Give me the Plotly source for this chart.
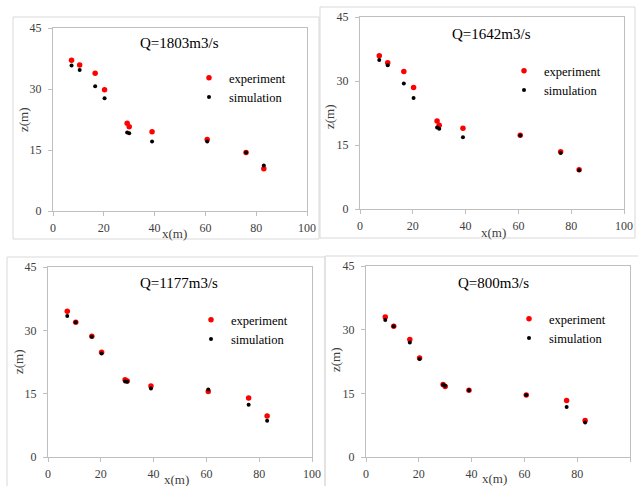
"""Four-panel water surface profiles: experiment vs simulation."""
import plotly.graph_objects as go

W, H = 638, 486

# ---- data ----
x_pos = [7.3, 10.5, 16.6, 20.3, 29.2, 30.0, 39.0, 60.7, 76.0, 83.0]

exp_1803 = [37.1, 35.9, 33.9, 29.8, 21.6, 20.7, 19.5, 17.6, 14.4, 10.4]
sim_1803 = [35.8, 34.7, 30.7, 27.7, 19.3, 19.1, 17.1, 17.1, 14.4, 11.2]

exp_1642 = [35.9, 34.3, 32.2, 28.5, 20.6, 19.6, 18.9, 17.3, 13.4, 9.2]
sim_1642 = [34.9, 33.7, 29.4, 26.0, 19.1, 18.8, 16.8, 17.2, 13.1, 9.1]

exp_1177 = [34.5, 31.9, 28.6, 24.8, 18.3, 18.0, 16.8, 15.5, 14.0, 9.7]
sim_1177 = [33.4, 31.9, 28.5, 24.5, 17.9, 17.8, 16.2, 16.0, 12.4, 8.6]

exp_800 = [33.0, 30.8, 27.7, 23.3, 17.1, 16.6, 15.7, 14.6, 13.3, 8.6]
sim_800 = [32.3, 30.8, 27.0, 23.1, 17.0, 16.8, 15.7, 14.6, 11.8, 8.1]

titles = ["Q=1803m3/s", "Q=1642m3/s", "Q=1177m3/s", "Q=800m3/s"]
experiments = [exp_1803, exp_1642, exp_1177, exp_800]
simulations = [sim_1803, sim_1642, sim_1177, sim_800]

x_ticks = [0, 20, 40, 60, 80, 100]
y_ticks = [0, 15, 30, 45]

# ---- layout geometry in pixels ----
# plot area (left, right, top, bottom), outer frame, title/legend/axis-title anchors
panels = [
    dict(plot=(53, 307, 28, 211), frame=(13, 319, 17, 239),
         title=(179, 43), legend=(229, 79), xt=(174, 234), yt=(23, 120)),
    dict(plot=(360, 624, 17, 209), frame=(320, 635, 7, 238),
         title=(491, 34), legend=(544, 72), xt=(493, 232), yt=(330, 117)),
    dict(plot=(48, 312, 267, 457), frame=(7, 325, 257, 490),
         title=(179, 283), legend=(231, 321), xt=(176, 479), yt=(18, 362)),
    dict(plot=(366, 630, 266, 457), frame=(325, 640, 256, 490),
         title=(493, 283), legend=(549, 320), xt=(494, 478), yt=(335, 360)),
]

SERIF = "Liberation Serif"
AXIS_COL = "#bfbfbf"
FRAME_COL = "#d9d9d9"
TEXT_COL = "#404040"


def px_x(v):
    return v / W


def px_y(v):
    return 1 - v / H


fig = go.Figure()
annotations = []
shapes = []
layout = {}

for i, p in enumerate(panels):
    n = "" if i == 0 else str(i + 1)
    leg = "legend" if i == 0 else f"legend{i + 1}"
    l, r, t, b = p["plot"]

    fig.add_trace(go.Scatter(
        x=x_pos, y=experiments[i], mode="markers", name="experiment",
        marker=dict(color="#ff0000", size=5.5),
        xaxis=f"x{n}", yaxis=f"y{n}", legend=leg,
    ))
    fig.add_trace(go.Scatter(
        x=x_pos, y=simulations[i], mode="markers", name="simulation",
        marker=dict(color="#000000", size=4),
        xaxis=f"x{n}", yaxis=f"y{n}", legend=leg,
    ))

    axis_common = dict(
        showgrid=False, zeroline=False, showline=True, mirror=True,
        linecolor=AXIS_COL, linewidth=1, ticks="outside", ticklen=4,
        tickcolor=AXIS_COL, tickfont=dict(family=SERIF, size=12, color=TEXT_COL),
        fixedrange=True, automargin=False,
    )
    layout[f"xaxis{n}"] = dict(
        axis_common, domain=[px_x(l), px_x(r)], range=[0, 100],
        tickvals=x_ticks, anchor=f"y{n}", ticklabelstandoff=2,
    )
    layout[f"yaxis{n}"] = dict(
        axis_common, domain=[px_y(b), px_y(t)], range=[0, 45],
        tickvals=y_ticks, anchor=f"x{n}", ticklabelstandoff=4,
    )

    lx, ly = p["legend"]
    layout[leg] = dict(
        x=px_x(lx - 40), y=px_y(ly - 16), xanchor="left", yanchor="top",
        bgcolor="rgba(0,0,0,0)", borderwidth=0, tracegroupgap=0,
        font=dict(family=SERIF, size=12.5, color="#000000"),
    )

    fl, fr, ft, fb = p["frame"]
    shapes.append(dict(
        type="rect", xref="paper", yref="paper",
        x0=px_x(fl), x1=px_x(fr), y0=px_y(fb), y1=px_y(ft),
        line=dict(color=FRAME_COL, width=1), layer="below",
    ))

    centred = dict(xref="paper", yref="paper", showarrow=False,
                   xanchor="center", yanchor="middle")
    tx, ty = p["title"]
    annotations.append(dict(
        centred, text=titles[i], x=px_x(tx), y=px_y(ty),
        font=dict(family=SERIF, size=15, color="#000000"),
    ))
    xx, xy = p["xt"]
    annotations.append(dict(
        centred, text="x(m)", x=px_x(xx), y=px_y(xy),
        font=dict(family=SERIF, size=13, color=TEXT_COL),
    ))
    yx, yy = p["yt"]
    annotations.append(dict(
        centred, text="z(m)", x=px_x(yx), y=px_y(yy), textangle=-90,
        font=dict(family=SERIF, size=13, color=TEXT_COL),
    ))

fig.update_layout(
    template="none",
    width=W, height=H,
    margin=dict(l=0, r=0, t=0, b=0),
    paper_bgcolor="white", plot_bgcolor="white",
    showlegend=True,
    annotations=annotations, shapes=shapes,
    **layout,
)

# the browser's default body margin would push the figure out of the window
fig.write_html(
    "out.html",
    config={"displayModeBar": False},
    post_script="document.body.style.margin='0';document.body.style.overflow='hidden';",
)
